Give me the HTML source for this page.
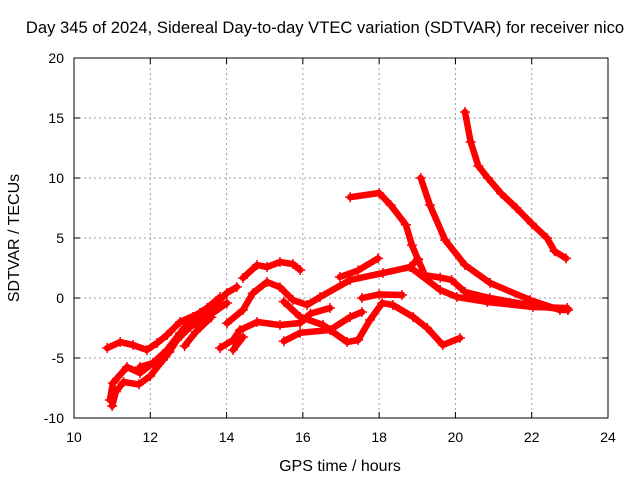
<!DOCTYPE html>
<html><head><meta charset="utf-8"><style>
body{margin:0;background:#fff}
svg{display:block;font-family:"Liberation Sans",sans-serif}
</style></head><body>
<svg id="chart" width="640" height="480" viewBox="0 0 640 480">
<rect width="640" height="480" fill="#fff"/>
<g id="grid"></g><g id="data"></g><g id="axes"></g>
<text x="325" y="33" text-anchor="middle" font-size="16.6">Day 345 of 2024, Sidereal Day-to-day VTEC variation (SDTVAR) for receiver nico</text>
<text x="340" y="471" text-anchor="middle" font-size="16">GPS time / hours</text>
<text transform="translate(19,238) rotate(-90)" text-anchor="middle" font-size="16">SDTVAR / TECUs</text>
</svg>
<script>
const xTicks=[10,12,14,16,18,20,22,24];
const yTicks=[-10,-5,0,5,10,15,20];
const trackTop=[[20.25,15.5],[20.4,13],[20.6,11],[20.85,10],[21.2,8.7],[21.6,7.5],[22,6.2],[22.4,5],[22.6,3.9],[22.9,3.3]];
const trackA=[[19.09,10],[19.33,7.75],[19.73,4.83],[20.25,2.75],[20.91,1.25],[21.96,-0.17],[22.74,-1.0],[22.95,-1.0]];
const trackB=[[17.24,8.4],[18.0,8.75],[18.3,7.75],[18.7,6.1],[18.86,4.4],[19.02,3.2],[19.2,1.9],[19.6,1.7],[19.9,1.5],[20.25,0.5],[20.9,0],[21.95,-0.6],[22.95,-1.0]];
const trackC=[[14.01,-2.1],[14.43,-1.0],[14.69,0.4],[15.06,1.33],[15.4,0.9],[15.74,-0.17],[16.11,-0.58],[16.45,0.08],[17.24,1.5],[18.1,2.08],[18.81,2.58],[19.02,3.25]];
const trackC2=[[18.81,2.58],[19.6,0.67],[20.04,0.08],[20.83,-0.33],[22.03,-0.75],[22.93,-0.83]];
const trackD=[[16.97,1.75],[17.45,2.3],[17.97,3.3]];
const trackE=[[17.55,0],[18.0,0.3],[18.6,0.25]];
const trackF=[[15.5,-3.6],[15.93,-2.9],[16.71,-2.67],[17.24,-1.58],[17.55,-1.17]];
const trackG=[[15.5,-0.3],[15.93,-1.58],[16.53,-2.25],[17.16,-3.67],[17.45,-3.5],[17.76,-1.83],[18.08,-0.42],[18.36,-0.58],[18.89,-1.58],[19.26,-2.5],[19.67,-3.92],[20.12,-3.33]];
const trackL=[[13.83,-4.17],[14.17,-3.5],[14.35,-2.67],[14.8,-2.0],[15.4,-2.25],[15.93,-2.08],[16.2,-1.3],[16.71,-0.83]];
const trackL2=[[14.17,-4.33],[14.43,-3.25]];
const trackN=[[14.43,1.67],[14.8,2.75],[15.06,2.58],[15.4,3.0],[15.74,2.83],[15.93,2.33]];
const trackH=[[10.87,-4.17],[11.21,-3.67],[11.55,-3.92],[11.91,-4.33],[12.18,-3.75],[12.44,-3.08],[12.78,-2.0],[13.3,-1.25],[13.75,-0.42],[14.01,0.42],[14.27,0.92]];
const trackI=[[10.94,-8.5],[11.02,-7.08],[11.39,-5.75],[11.73,-6.25],[12.07,-5.42],[12.44,-4.33],[12.78,-2.92],[13.12,-1.58],[13.49,-0.83],[13.83,0.08]];
const trackJ=[[11.73,-5.75],[12.33,-5.17],[12.7,-3.5],[13.04,-2.42],[13.49,-1.58],[14.01,-0.42]];
const trackI2=[[11.0,-9.0],[11.1,-7.8],[11.3,-7.0],[11.7,-7.2],[12.0,-6.5],[12.5,-4.5],[13.0,-2.0],[13.5,-1.0]];
const trackK=[[12.9,-4.0],[13.2,-2.8],[13.6,-1.6]];
const tracks=[trackTop,trackA,trackB,trackC,trackC2,trackD,trackE,trackF,trackG,trackL,trackL2,trackN,trackH,trackI,trackJ,trackI2,trackK];

const X0=74,X1=608,Y0=58,Y1=418;
const sx=h=>X0+(h-10)/(24-10)*(X1-X0);
const sy=v=>Y1-(v+10)/30*(Y1-Y0);
const NS="http://www.w3.org/2000/svg";
function mk(tag,attrs,parent){const e=document.createElementNS(NS,tag);for(const k in attrs)e.setAttribute(k,attrs[k]);parent.appendChild(e);return e;}
const grid=document.getElementById('grid'),axes=document.getElementById('axes'),data=document.getElementById('data');
xTicks.forEach(t=>{
  const x=sx(t);
  if(t>10&&t<24){const g=mk('line',{x1:x,x2:x,y1:Y0,y2:Y1,stroke:'#a0a0a0','stroke-dasharray':'2,3'},grid);
  
  }
  mk('line',{x1:x,x2:x,y1:Y1,y2:Y1-6,stroke:'#000'},axes);
  mk('line',{x1:x,x2:x,y1:Y0,y2:Y0+6,stroke:'#000'},axes);
  const l=mk('text',{x:x,y:Y1+24,'text-anchor':'middle','font-size':14},axes);l.textContent=t;
  
  
});
yTicks.forEach(t=>{
  const y=sy(t);
  if(t>-10&&t<20){const g=mk('line',{x1:X0,x2:X1,y1:y,y2:y,stroke:'#a0a0a0','stroke-dasharray':'2,3'},grid);
  
  }
  mk('line',{x1:X0,x2:X0+6,y1:y,y2:y,stroke:'#000'},axes);
  mk('line',{x1:X1,x2:X1-6,y1:y,y2:y,stroke:'#000'},axes);
  const l=mk('text',{x:X0-10,y:y+5,'text-anchor':'end','font-size':14},axes);l.textContent=t;
  
  
});
const fr=mk('rect',{x:X0,y:Y0,width:X1-X0,height:Y1-Y0,fill:'none',stroke:'#000'},axes);


tracks.forEach(tr=>{
  const p=mk('polyline',{points:tr.map(d=>sx(d[0])+','+sy(d[1])).join(' '),fill:'none',stroke:'#ff0000','stroke-width':6.5,'stroke-linejoin':'round','stroke-linecap':'round'},data);
  
  
  tr.forEach(d=>{
    const x=sx(d[0]),y=sy(d[1]);
    const m=mk('path',{d:`M${x-5},${y}H${x+5}M${x},${y-5}V${y+5}`,stroke:'#ff0000','stroke-width':1.5},data);
    
    
  });
});
</script>
</body></html>
